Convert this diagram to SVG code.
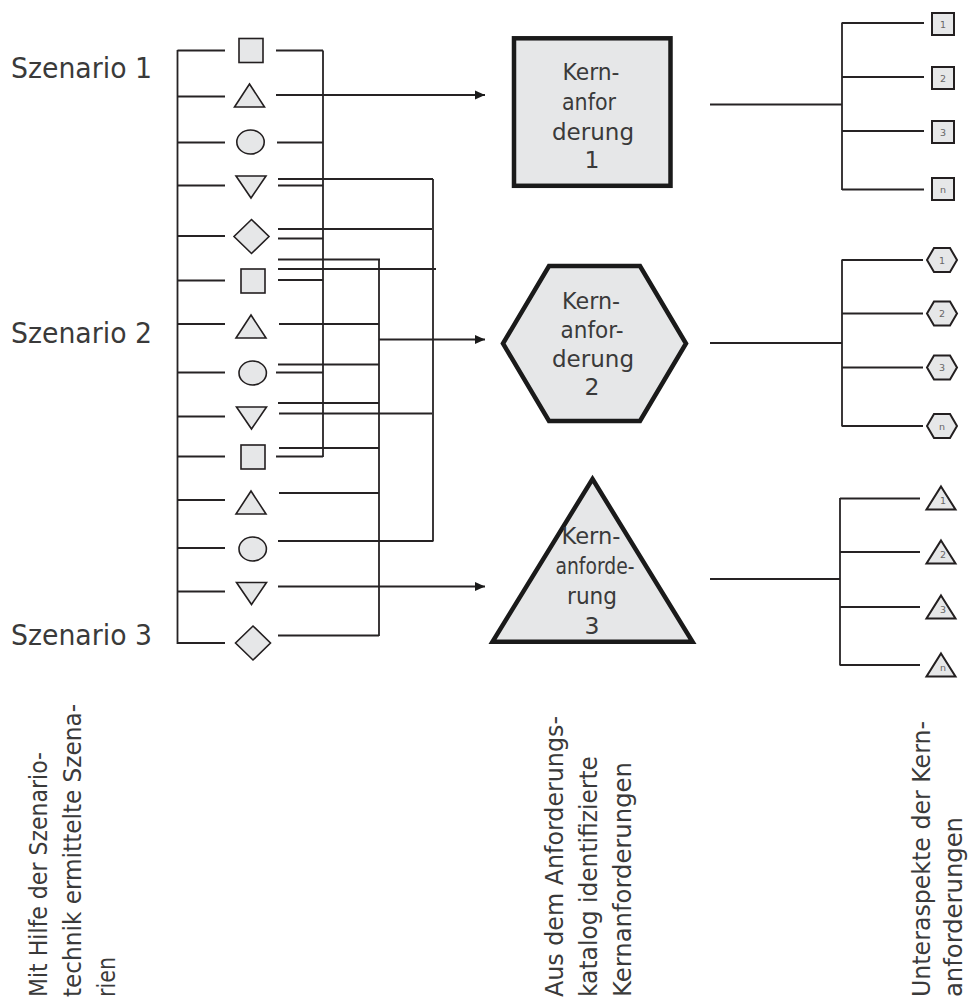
<svg xmlns="http://www.w3.org/2000/svg" width="973" height="999" viewBox="0 0 973 999">
  <style>
    .ln { stroke: #262324; stroke-width: 1.8; fill: none; }
    .sh { fill: #e6e7e8; stroke: #231f20; stroke-width: 1.6; }
    .kn { fill: #e6e7e8; stroke: #1a1a1a; stroke-width: 4.5; stroke-linejoin: miter; }
    .sub { fill: #e6e7e8; stroke: #231f20; stroke-width: 2; }
    .t { font-family: "DejaVu Sans", "Liberation Sans", sans-serif; fill: #3a3a3a; }
    .lbl { font-size: 28.5px; }
    .kt { font-size: 23.5px; text-anchor: middle; }
    .vt { font-size: 24px; }
    .num { font-family: "DejaVu Sans", "Liberation Sans", sans-serif; font-size: 9.5px; fill: #666666; text-anchor: middle; }
  </style>
  <defs>
    <marker id="arrow" markerUnits="userSpaceOnUse" markerWidth="12" markerHeight="10" refX="10" refY="5" orient="auto">
      <path d="M0,0.5 L10,5 L0,9.5 z" fill="#1a1a1a"/>
    </marker>
    <rect id="sq" x="-12" y="-12" width="24" height="24"/>
    <polygon id="tri" points="0,-11.5 15,11.5 -15,11.5"/>
    <polygon id="tridown" points="-15,-11 15,-11 0,11"/>
    <ellipse id="circ" rx="13.7" ry="12"/>
    <polygon id="dia" points="0,-17 17.5,0 0,17 -17.5,0"/>
    <rect id="ssq" x="-11" y="-11" width="22" height="22"/>
    <polygon id="shex" points="-15,0 -8,-12 8,-12 15,0 8,12 -8,12"/>
    <polygon id="stri" points="0,-11.5 14.5,11.5 -14.5,11.5"/>
  </defs>

  <!-- scenario labels -->
  <g id="scenario-labels" class="t lbl">
    <text x="11" y="78" textLength="141" lengthAdjust="spacingAndGlyphs">Szenario 1</text>
    <text x="11" y="343" textLength="141" lengthAdjust="spacingAndGlyphs">Szenario 2</text>
    <text x="11" y="645" textLength="141" lengthAdjust="spacingAndGlyphs">Szenario 3</text>
  </g>

  <!-- connectors -->
  <g id="connectors" class="ln">
    <!-- scenario bracket -->
    <line x1="177.5" y1="50" x2="177.5" y2="644"/>
    <line x1="177.5" y1="50.5" x2="225" y2="50.5"/>
    <line x1="177.5" y1="96.5" x2="225" y2="96.5"/>
    <line x1="177.5" y1="142.5" x2="225" y2="142.5"/>
    <line x1="177.5" y1="185.5" x2="225" y2="185.5"/>
    <line x1="177.5" y1="236" x2="225" y2="236"/>
    <line x1="177.5" y1="280.5" x2="225" y2="280.5"/>
    <line x1="177.5" y1="324" x2="225" y2="324"/>
    <line x1="177.5" y1="372.5" x2="225" y2="372.5"/>
    <line x1="177.5" y1="416.5" x2="225" y2="416.5"/>
    <line x1="177.5" y1="456.5" x2="225" y2="456.5"/>
    <line x1="177.5" y1="500" x2="225" y2="500"/>
    <line x1="177.5" y1="548" x2="225" y2="548"/>
    <line x1="177.5" y1="591.5" x2="225" y2="591.5"/>
    <line x1="177.5" y1="643" x2="225" y2="643"/>

    <!-- collector A (x=323) -->
    <line x1="323" y1="50.5" x2="323" y2="457"/>
    <line x1="276" y1="50.5" x2="323" y2="50.5"/>
    <line x1="277" y1="142.5" x2="323" y2="142.5"/>
    <line x1="278" y1="185.5" x2="323" y2="185.5"/>
    <line x1="278" y1="238.5" x2="323" y2="238.5"/>
    <line x1="278" y1="280" x2="323" y2="280"/>
    <line x1="276" y1="372.5" x2="323" y2="372.5"/>
    <line x1="276" y1="456.5" x2="323" y2="456.5"/>

    <!-- collector B (x=433) -->
    <line x1="433" y1="179" x2="433" y2="541.5"/>
    <line x1="278" y1="179" x2="433" y2="179"/>
    <line x1="278" y1="229" x2="432" y2="229"/>
    <line x1="278" y1="269" x2="436" y2="269"/>
    <line x1="279" y1="413.5" x2="432" y2="413.5"/>
    <line x1="278" y1="541" x2="433" y2="541"/>

    <!-- collector C (x=379) -->
    <line x1="379" y1="259" x2="379" y2="636"/>
    <line x1="278" y1="259.5" x2="380" y2="259.5"/>
    <line x1="279" y1="324" x2="379" y2="324"/>
    <line x1="278" y1="364.5" x2="379" y2="364.5"/>
    <line x1="278" y1="403" x2="379" y2="403"/>
    <line x1="279" y1="448" x2="379" y2="448"/>
    <line x1="279" y1="493" x2="379" y2="493"/>
    <line x1="278" y1="635.5" x2="379" y2="635.5"/>

    <!-- feeds into the core requirements -->
    <line x1="276" y1="95" x2="485" y2="95" marker-end="url(#arrow)"/>
    <line x1="379" y1="339.5" x2="485" y2="339.5" marker-end="url(#arrow)"/>
    <line x1="278" y1="586.5" x2="485" y2="586.5" marker-end="url(#arrow)"/>

    <!-- sub-aspect trees -->
    <line x1="710" y1="104.5" x2="842" y2="104.5"/>
    <line x1="842" y1="22.5" x2="842" y2="190"/>
    <line x1="842" y1="23" x2="924" y2="23"/>
    <line x1="842" y1="77" x2="924" y2="77"/>
    <line x1="842" y1="131" x2="924" y2="131"/>
    <line x1="842" y1="189.5" x2="924" y2="189.5"/>

    <line x1="710" y1="343" x2="842" y2="343"/>
    <line x1="842" y1="259.5" x2="842" y2="426.5"/>
    <line x1="842" y1="260" x2="923" y2="260"/>
    <line x1="842" y1="313.5" x2="923" y2="313.5"/>
    <line x1="842" y1="367.5" x2="923" y2="367.5"/>
    <line x1="842" y1="426" x2="923" y2="426"/>

    <line x1="710" y1="579" x2="840" y2="579"/>
    <line x1="840" y1="498" x2="840" y2="665.5"/>
    <line x1="840" y1="498.5" x2="920" y2="498.5"/>
    <line x1="840" y1="552" x2="920" y2="552"/>
    <line x1="840" y1="607" x2="920" y2="607"/>
    <line x1="840" y1="665" x2="920" y2="665"/>
  </g>

  <!-- scenario elements -->
  <g id="s01" class="sh"><use href="#sq" x="251" y="50.5"/></g>
  <g id="s02" class="sh"><use href="#tri" x="249.5" y="95.5"/></g>
  <g id="s03" class="sh"><use href="#circ" x="250.5" y="142"/></g>
  <g id="s04" class="sh"><use href="#tridown" x="251" y="187"/></g>
  <g id="s05" class="sh"><use href="#dia" x="251.5" y="236.5"/></g>
  <g id="s06" class="sh"><use href="#sq" x="253" y="281"/></g>
  <g id="s07" class="sh"><use href="#tri" x="251" y="326.5"/></g>
  <g id="s08" class="sh"><use href="#circ" x="252.7" y="373"/></g>
  <g id="s09" class="sh"><use href="#tridown" x="251.5" y="418"/></g>
  <g id="s10" class="sh"><use href="#sq" x="253" y="457"/></g>
  <g id="s11" class="sh"><use href="#tri" x="251" y="502.5"/></g>
  <g id="s12" class="sh"><use href="#circ" x="252.7" y="549"/></g>
  <g id="s13" class="sh"><use href="#tridown" x="251.5" y="593.5"/></g>
  <g id="s14" class="sh"><use href="#dia" x="253" y="643"/></g>

  <!-- core requirement 1 -->
  <g id="kern1">
    <rect class="kn" x="514" y="38.3" width="156.5" height="147.5"/>
    <g class="t kt">
      <text x="591" y="80" textLength="57" lengthAdjust="spacingAndGlyphs">Kern-</text>
      <text x="589" y="110" textLength="54" lengthAdjust="spacingAndGlyphs">anfor</text>
      <text x="593" y="140" textLength="82" lengthAdjust="spacingAndGlyphs">derung</text>
      <text x="592" y="168">1</text>
    </g>
  </g>

  <!-- core requirement 2 -->
  <g id="kern2">
    <polygon class="kn" points="503,343.5 549,266 640,266 686,343.5 640,421 549,421"/>
    <g class="t kt">
      <text x="591" y="309" textLength="58" lengthAdjust="spacingAndGlyphs">Kern-</text>
      <text x="592" y="338" textLength="63" lengthAdjust="spacingAndGlyphs">anfor-</text>
      <text x="593" y="367" textLength="82" lengthAdjust="spacingAndGlyphs">derung</text>
      <text x="592" y="395">2</text>
    </g>
  </g>

  <!-- core requirement 3 -->
  <g id="kern3">
    <polygon class="kn" points="592.5,479 692.5,641.8 492.5,641.8"/>
    <g class="t kt">
      <text x="591" y="544" textLength="59" lengthAdjust="spacingAndGlyphs">Kern-</text>
      <text x="595" y="574" textLength="79" lengthAdjust="spacingAndGlyphs">anforde-</text>
      <text x="592" y="604" textLength="50" lengthAdjust="spacingAndGlyphs">rung</text>
      <text x="592" y="634">3</text>
    </g>
  </g>

  <!-- sub-aspects of requirement 1 -->
  <g id="sub1-1"><use class="sub" href="#ssq" x="943" y="24"/><text class="num" x="943" y="27.5">1</text></g>
  <g id="sub1-2"><use class="sub" href="#ssq" x="943" y="78"/><text class="num" x="943" y="81.5">2</text></g>
  <g id="sub1-3"><use class="sub" href="#ssq" x="943" y="132"/><text class="num" x="943" y="135.5">3</text></g>
  <g id="sub1-n"><use class="sub" href="#ssq" x="943" y="189"/><text class="num" x="943" y="192.5">n</text></g>

  <!-- sub-aspects of requirement 2 -->
  <g id="sub2-1"><use class="sub" href="#shex" x="942" y="260"/><text class="num" x="942" y="263.5">1</text></g>
  <g id="sub2-2"><use class="sub" href="#shex" x="942" y="313.5"/><text class="num" x="942" y="317">2</text></g>
  <g id="sub2-3"><use class="sub" href="#shex" x="942" y="367.5"/><text class="num" x="942" y="371">3</text></g>
  <g id="sub2-n"><use class="sub" href="#shex" x="942" y="426"/><text class="num" x="942" y="429.5">n</text></g>

  <!-- sub-aspects of requirement 3 -->
  <g id="sub3-1"><use class="sub" href="#stri" x="941" y="498"/><text class="num" x="943" y="503.5">1</text></g>
  <g id="sub3-2"><use class="sub" href="#stri" x="941" y="552"/><text class="num" x="943" y="557.5">2</text></g>
  <g id="sub3-3"><use class="sub" href="#stri" x="941" y="607"/><text class="num" x="943" y="612.5">3</text></g>
  <g id="sub3-n"><use class="sub" href="#stri" x="941" y="665"/><text class="num" x="943" y="670.5">n</text></g>

  <!-- column captions -->
  <g id="caption-scenarios" class="t vt">
    <text transform="translate(47,997) rotate(-90)" textLength="245" lengthAdjust="spacingAndGlyphs">Mit Hilfe der Szenario-</text>
    <text transform="translate(81,997) rotate(-90)" textLength="293" lengthAdjust="spacingAndGlyphs">technik ermittelte Szena-</text>
    <text transform="translate(115,997) rotate(-90)" textLength="40" lengthAdjust="spacingAndGlyphs">rien</text>
  </g>
  <g id="caption-core" class="t vt">
    <text transform="translate(563,997) rotate(-90)" textLength="281" lengthAdjust="spacingAndGlyphs">Aus dem Anforderungs-</text>
    <text transform="translate(597,997) rotate(-90)" textLength="241" lengthAdjust="spacingAndGlyphs">katalog identifizierte</text>
    <text transform="translate(631,997) rotate(-90)" textLength="235" lengthAdjust="spacingAndGlyphs">Kernanforderungen</text>
  </g>
  <g id="caption-sub" class="t vt">
    <text transform="translate(930,997) rotate(-90)" textLength="276" lengthAdjust="spacingAndGlyphs">Unteraspekte der Kern-</text>
    <text transform="translate(962,997) rotate(-90)" textLength="180" lengthAdjust="spacingAndGlyphs">anforderungen</text>
  </g>
</svg>
